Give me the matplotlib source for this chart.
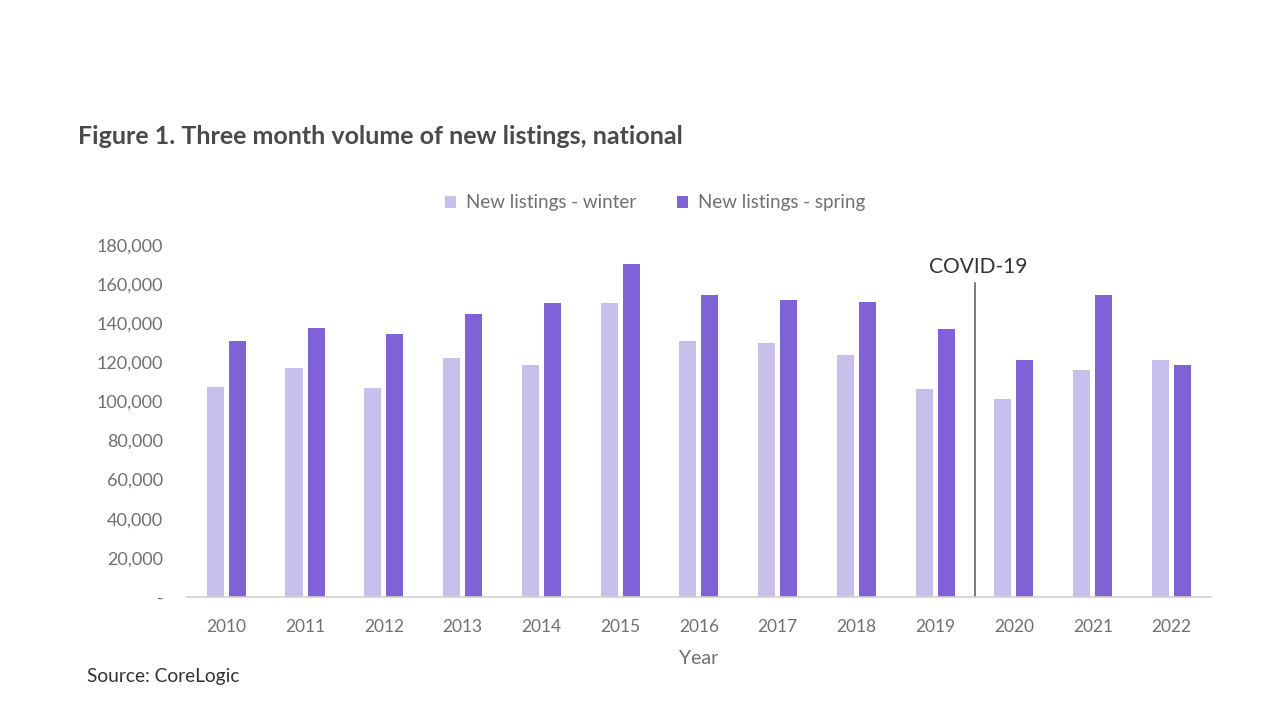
import matplotlib
matplotlib.use("Agg")
import matplotlib.pyplot as plt
import numpy as np
from matplotlib.ticker import FuncFormatter

years = ["2010", "2011", "2012", "2013", "2014", "2015", "2016",
         "2017", "2018", "2019", "2020", "2021", "2022"]
winter = [107300, 117000, 106800, 122100, 118600, 150200, 130800,
          129800, 123700, 106300, 101200, 116000, 121100]
spring = [130800, 137500, 134400, 144600, 150200, 170200, 154300,
          151800, 150700, 137000, 121100, 154300, 118600]
series_names = ["New listings - winter", "New listings - spring"]
yticks = [0, 20000, 40000, 60000, 80000, 100000, 120000, 140000, 160000, 180000]

plt.rcParams['font.family'] = ['Lato', 'DejaVu Sans']

fig = plt.figure(figsize=(12.8, 7.2), dpi=100)
ax = fig.add_axes([0.146, 0.171, 0.8, 0.489])

x = np.arange(len(years))
w = 0.216
off = 0.14
c_w = "#C9BFEC"
c_s = "#7E62D6"
ax.bar(x - off, winter, width=w, color=c_w, label=series_names[0])
ax.bar(x + off, spring, width=w, color=c_s, label=series_names[1])

ax.set_xlim(-0.5, len(years) - 0.5)
ax.set_ylim(0, 180000)
ax.set_yticks(yticks)
ax.yaxis.set_major_formatter(FuncFormatter(lambda v, p: "-" if v == 0 else f"{int(v):,}"))
ax.set_xticks(x)
ax.set_xticklabels(years)

for s in ["top", "right", "left"]:
    ax.spines[s].set_visible(False)
ax.spines["bottom"].set_color("#D0D0D0")
ax.spines["bottom"].set_linewidth(1.2)
ax.tick_params(axis="both", length=0, colors="#707070")
ax.tick_params(axis="y", pad=17, labelsize=13)
ax.tick_params(axis="x", pad=16, labelsize=12.5)

ax.set_xlabel("Year", fontsize=14, color="#707070", labelpad=11)

# COVID marker
ax.plot([9.5, 9.5], [0, 160500], color="#555555", lw=1.1)
ax.text(9.54, 168600, "COVID-19", ha="center", va="center", fontsize=15, color="#333333")

leg = ax.legend(loc="center", bbox_to_anchor=(0.457, 1.119), ncol=2, frameon=False,
                fontsize=13.5, handlelength=0.6, handleheight=0.6, columnspacing=2.2,
                handletextpad=0.5)
for t in leg.get_texts():
    t.set_color("#707070")

fig.text(0.061, 0.81, "Figure 1. Three month volume of new listings, national",
         fontsize=18, fontweight="bold", color="#4A4A4A", ha="left", va="center")
fig.text(0.068, 0.06, "Source: CoreLogic", fontsize=13.8, color="#333333", ha="left", va="center")

fig.savefig("out.png", dpi=100)
